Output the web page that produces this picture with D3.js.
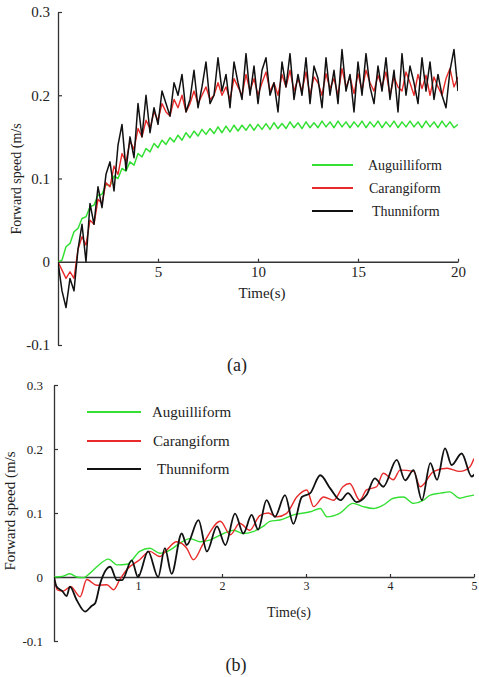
<!DOCTYPE html>
<html><head><meta charset="utf-8">
<script src="https://cdn.jsdelivr.net/npm/d3@7"></script>
<style>
body{margin:0;background:#fff}
svg{display:block}
text{font-family:"Liberation Serif","Times New Roman",Tinos,serif;fill:#222}
</style>
</head><body>
<svg id="c" width="479" height="677"></svg>
<script>
// ---------- data ----------
const seriesNames = ["Auguilliform", "Carangiform", "Thunniform"];
const seriesColors = ["#34e034", "#e82a2a", "#111111"];

// panel (a): 0-20 s
const timeA = [0,0.2,0.4,0.6,0.8,1,1.2,1.4,1.6,1.8,
  2,2.2,2.4,2.6,2.8,3,3.2,3.4,3.6,3.8,
  4,4.2,4.4,4.6,4.8,5,5.2,5.4,5.6,5.8,
  6,6.2,6.4,6.6,6.8,7,7.2,7.4,7.6,7.8,
  8,8.2,8.4,8.6,8.8,9,9.2,9.4,9.6,9.8,
  10,10.2,10.4,10.6,10.8,11,11.2,11.4,11.6,11.8,
  12,12.2,12.4,12.6,12.8,13,13.2,13.4,13.6,13.8,
  14,14.2,14.4,14.6,14.8,15,15.2,15.4,15.6,15.8,
  16,16.2,16.4,16.6,16.8,17,17.2,17.4,17.6,17.8,
  18,18.2,18.4,18.6,18.8,19,19.2,19.4,19.6,19.8,20];
const auguilliA = [0,0.002,0.018,0.022,0.036,0.04,0.052,0.054,0.066,0.068,
  0.08,0.081,0.093,0.091,0.103,0.1,0.112,0.109,0.12,0.116,
  0.13,0.126,0.136,0.132,0.142,0.137,0.146,0.141,0.149,0.144,
  0.152,0.146,0.155,0.149,0.157,0.151,0.159,0.153,0.16,0.154,
  0.162,0.155,0.163,0.156,0.164,0.157,0.164,0.158,0.165,0.158,
  0.165,0.159,0.166,0.159,0.167,0.16,0.166,0.16,0.168,0.161,
  0.167,0.16,0.168,0.161,0.167,0.161,0.169,0.162,0.168,0.161,
  0.169,0.162,0.168,0.161,0.168,0.162,0.169,0.161,0.168,0.162,
  0.169,0.161,0.168,0.162,0.169,0.161,0.168,0.162,0.169,0.162,
  0.168,0.161,0.169,0.162,0.168,0.161,0.169,0.162,0.168,0.161,0.165];
const carangiA = [0,-0.01,-0.02,-0.012,-0.02,0.015,0.03,0.02,0.05,0.045,
  0.075,0.07,0.095,0.09,0.115,0.105,0.13,0.12,0.145,0.135,
  0.16,0.15,0.17,0.16,0.18,
  0.17,0.19,0.18,0.175,0.195,0.185,0.2,0.18,0.19,0.205,
  0.19,0.2,0.21,0.195,0.2,0.215,0.2,0.21,0.195,0.22,
  0.21,0.2,0.225,0.205,0.22,0.2,0.215,0.228,0.205,0.215,
  0.2,0.225,0.21,0.23,0.205,0.22,0.205,0.228,0.2,0.222,
  0.215,0.2,0.226,0.208,0.22,0.2,0.232,0.21,0.222,0.202,
  0.226,0.206,0.23,0.215,0.205,0.224,0.21,0.228,0.2,0.222,
  0.21,0.205,0.228,0.215,0.2,0.225,0.208,0.224,0.2,0.222,
  0.21,0.2,0.22,0.232,0.21,0.222];
const thunniA = [0,-0.035,-0.055,-0.02,-0.035,0.015,0.045,0.0,0.07,0.045,
  0.09,0.065,0.105,0.12,0.085,0.14,0.165,0.11,0.15,0.125,
  0.19,0.15,0.2,0.155,0.185,
  0.165,0.205,0.19,0.175,0.215,0.2,0.225,0.18,0.195,0.23,
  0.185,0.21,0.24,0.19,0.2,0.245,0.205,0.225,0.185,0.24,
  0.215,0.195,0.25,0.2,0.235,0.19,0.23,0.245,0.2,0.215,
  0.18,0.24,0.21,0.25,0.195,0.225,0.2,0.245,0.19,0.235,
  0.22,0.185,0.245,0.2,0.23,0.19,0.255,0.205,0.225,0.18,
  0.24,0.2,0.25,0.21,0.19,0.235,0.205,0.245,0.195,0.23,
  0.18,0.25,0.2,0.235,0.215,0.19,0.245,0.205,0.24,0.195,
  0.225,0.2,0.185,0.23,0.255,0.205];
const xTicksA = [5, 10, 15, 20];
const xTickLabelsA = ["5", "10", "15", "20"];
const yTicks = [-0.1, 0, 0.1, 0.2, 0.3];
const yTickLabels = ["-0.1", "0", "0.1", "0.2", "0.3"];

// panel (b): 0-5 s
const auguilliB_t = [0,0.1,0.19,0.27,0.35,0.43,0.51,0.65,0.75,0.87,1.02,1.14,1.26,1.38,1.5,1.62,1.74,1.86,2.02,2.14,2.25,2.37,2.49,2.57,2.69,2.85,3.05,3.17,3.25,3.4,3.56,3.68,3.8,3.92,4.04,4.16,4.28,4.4,4.48,4.6,4.71,4.83,4.92,5.0];
const auguilliB_v = [0,0.001,0.005,0.0,-0.001,0.006,0.016,0.028,0.019,0.02,0.04,0.045,0.037,0.042,0.053,0.06,0.055,0.058,0.068,0.073,0.068,0.071,0.079,0.087,0.089,0.097,0.102,0.107,0.094,0.0995,0.115,0.11,0.107,0.1125,0.123,0.125,0.115,0.12,0.128,0.131,0.133,0.123,0.126,0.128];
const carangiB_t = [0,0.04,0.11,0.2,0.31,0.39,0.51,0.63,0.71,0.78,0.87,1.02,1.14,1.26,1.34,1.46,1.58,1.66,1.78,1.98,2.1,2.21,2.33,2.45,2.55,2.65,2.77,2.89,3.01,3.09,3.21,3.33,3.44,3.52,3.64,3.72,3.84,3.92,4.04,4.12,4.28,4.36,4.52,4.68,4.83,4.95,5.0];
const carangiB_v = [0,-0.02,-0.022,-0.015,-0.031,-0.004,-0.013,-0.012,-0.02,-0.005,0.012,0.027,0.04,0.032,0.042,0.055,0.045,0.027,0.053,0.087,0.066,0.084,0.073,0.096,0.1,0.094,0.0995,0.125,0.136,0.11,0.125,0.12,0.141,0.146,0.12,0.136,0.141,0.162,0.152,0.167,0.165,0.141,0.165,0.17,0.165,0.172,0.185];
const thunniB_t = [0,0.03,0.1,0.15,0.19,0.27,0.37,0.45,0.49,0.55,0.67,0.75,0.81,0.925,1.0,1.12,1.24,1.32,1.4,1.52,1.58,1.72,1.82,1.94,2.04,2.155,2.254,2.353,2.43,2.53,2.63,2.75,2.85,2.95,3.05,3.17,3.29,3.41,3.5,3.6,3.72,3.82,3.92,4.08,4.18,4.28,4.38,4.48,4.56,4.655,4.734,4.853,4.972,5.03];
const thunniB_v = [0,-0.015,-0.022,-0.03,-0.015,-0.036,-0.054,-0.045,-0.041,-0.01,0.016,-0.005,-0.005,0.026,0.0,0.04,0.0,0.045,0.005,0.068,0.05,0.089,0.04,0.079,0.05,0.099,0.068,0.097,0.074,0.12,0.094,0.128,0.083,0.125,0.131,0.159,0.138,0.12,0.131,0.117,0.128,0.154,0.141,0.183,0.151,0.167,0.12,0.178,0.152,0.201,0.175,0.193,0.157,0.165];
const xTicksB = [1, 2, 3, 4, 5];
const xTickLabelsB = ["1", "2", "3", "4", "5"];

// ---------- drawing ----------
const FONT = '"Liberation Serif","Times New Roman",Tinos,serif';
const svg = d3.select("#c");
const zip = (ts, vs) => ts.map((t, i) => [t, vs[i]]);

function drawPanel(o) {
  const g = svg.append("g");
  const x = d3.scaleLinear().domain(o.xDomain).range(o.xRange);
  const y = d3.scaleLinear().domain([-0.1, 0.3]).range(o.yRange);

  const clipId = "clip" + o.id;
  svg.append("clipPath").attr("id", clipId).append("rect")
    .attr("x", o.xRange[0]).attr("y", o.yRange[1] - 5)
    .attr("width", o.xRange[1] - o.xRange[0]).attr("height", o.yRange[0] - o.yRange[1] + 10);

  // axes
  const ya = g.append("g").attr("transform", `translate(${o.xRange[0]},0)`)
    .call(d3.axisLeft(y).tickValues(yTicks).tickFormat((d, i) => yTickLabels[i])
      .tickSizeInner(-4).tickSizeOuter(0).tickPadding(o.yPad));
  const xa = g.append("g").attr("transform", `translate(0,${y(0)})`)
    .call(d3.axisBottom(x).tickValues(o.xTicks).tickFormat((d, i) => o.xTickLabels[i])
      .tickSizeInner(-3).tickSizeOuter(0).tickPadding(o.xPad));
  [ya, xa].forEach(a => {
    a.attr("font-family", FONT);
    a.select(".domain").attr("stroke", "#333").attr("stroke-width", 1.3);
    a.selectAll(".tick line").attr("stroke", "#333").attr("stroke-width", 1.2);
    a.selectAll("text").attr("fill", "#222").style("font-family", FONT);
  });
  ya.selectAll("text").style("font-size", o.yFont + "px");
  xa.selectAll("text").style("font-size", o.xFont + "px");

  // lines
  const line = d3.line().x(d => x(d[0])).y(d => y(d[1])).curve(o.curve);
  const lg = g.append("g").attr("clip-path", `url(#${clipId})`);
  o.series.forEach((s, i) => {
    lg.append("path").datum(s).attr("fill", "none")
      .attr("stroke", seriesColors[i]).attr("stroke-width", o.widths[i])
      .attr("stroke-linejoin", "round").attr("d", line);
  });

  // legend
  seriesNames.forEach((n, i) => {
    const ly = o.legY[i];
    g.append("line").attr("x1", o.legX[0]).attr("x2", o.legX[1])
      .attr("y1", ly).attr("y2", ly).attr("stroke", seriesColors[i]).attr("stroke-width", 2);
    g.append("text").attr("x", o.legTextX[i]).attr("y", ly).attr("dy", "0.35em")
      .style("font-size", o.legFont + "px").text(n);
  });

  // axis titles
  g.append("text").attr("x", o.xTitle[0]).attr("y", o.xTitle[1]).attr("text-anchor", "middle")
    .style("font-size", o.titleFont + "px").text("Time(s)");
  g.append("text").attr("transform", `translate(${o.yTitle[0]},${o.yTitle[1]}) rotate(-90)`)
    .attr("text-anchor", "middle").attr("dy", "0.35em")
    .style("font-size", o.yTitleFont + "px").text("Forward speed (m/s");
  g.append("text").attr("x", o.caption[0]).attr("y", o.caption[1]).attr("text-anchor", "middle")
    .style("font-size", "18px").text(o.captionText);
}

drawPanel({
  id: "a", xDomain: [0, 20], xRange: [58, 458], yRange: [345, 12],
  xTicks: xTicksA, xTickLabels: xTickLabelsA, yPad: 8, xPad: 5, yFont: 15, xFont: 15,
  curve: d3.curveLinear, widths: [1.5, 1.4, 1.5],
  series: [zip(timeA, auguilliA), zip(timeA, carangiA), zip(timeA, thunniA)],
  legX: [312, 353], legY: [165, 188, 211], legTextX: [368, 369, 372], legFont: 14,
  xTitle: [262, 298], titleFont: 15, yTitle: [16, 179], yTitleFont: 14,
  caption: [237, 371], captionText: "(a)"
});

drawPanel({
  id: "b", xDomain: [0, 5], xRange: [54, 474], yRange: [641, 385],
  xTicks: xTicksB, xTickLabels: xTickLabelsB, yPad: 11, xPad: 4, yFont: 13, xFont: 12,
  curve: d3.curveMonotoneX, widths: [1.4, 1.4, 1.8],
  series: [zip(auguilliB_t, auguilliB_v), zip(carangiB_t, carangiB_v), zip(thunniB_t, thunniB_v)],
  legX: [87, 141], legY: [412, 441, 469], legTextX: [152, 153, 157], legFont: 15,
  xTitle: [289, 617], titleFont: 14, yTitle: [10, 511], yTitleFont: 15,
  caption: [236, 671], captionText: "(b)"
});
</script>
</body></html>
